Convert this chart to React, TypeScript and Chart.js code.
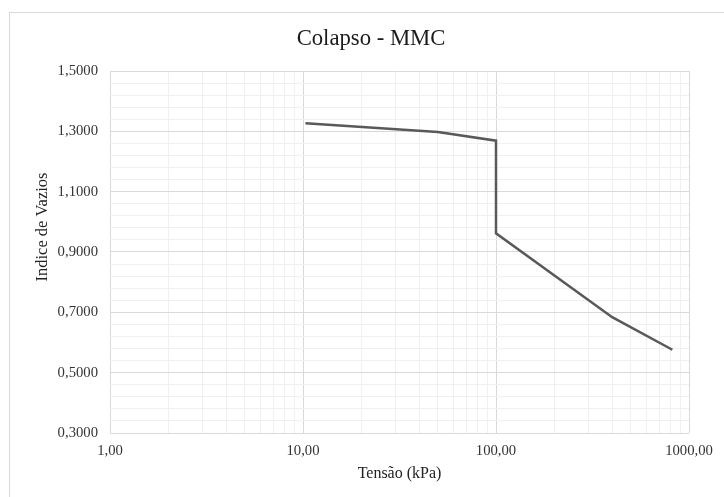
import React, { useEffect, useRef } from "react";
import { Chart, registerables } from "chart.js";

Chart.register(...registerables);

const chartTitle = "Colapso - MMC";
const yAxisTitle = "Indice de Vazios";
const xAxisTitle = "Tensão (kPa)";
const tensao = [10.3, 50, 100, 100, 400, 820];
const indiceVazios = [1.327, 1.298, 1.269, 0.962, 0.684, 0.576];
const xTickValues = [1, 2, 3, 4, 5, 6, 7, 8, 9, 10, 20, 30, 40, 50, 60, 70, 80, 90, 100, 200, 300, 400, 500, 600, 700, 800, 900, 1000];
const xLabelValues = [1, 10, 100, 1000];
const yMin = 0.3;
const yMax = 1.5;
const yMinorStep = 0.04;
const yMajorStep = 0.2;

const FONT = "'Liberation Serif', 'Times New Roman', serif";

const titlePlugin = {
  id: "customTitles",
  afterDraw(chart: any) {
    const c = chart.ctx;
    c.save();
    c.font = `22.7px ${FONT}`;
    c.fillStyle = "#1a1a1a";
    c.textAlign = "center";
    c.textBaseline = "middle";
    c.fillText(chartTitle, 371, 39);
    c.restore();
    c.save();
    c.font = `16.5px ${FONT}`;
    c.fillStyle = "#222";
    c.textAlign = "center";
    c.textBaseline = "middle";
    c.translate(43, 227);
    c.rotate(-Math.PI / 2);
    c.fillText(yAxisTitle, 0, 0);
    c.restore();
  },
};

export default function App() {
  const ref = useRef<HTMLCanvasElement>(null);
  useEffect(() => {
    const ctx = ref.current!;
    const chart = new Chart(ctx, {
      type: "line",
      data: {
        datasets: [
          {
            data: tensao.map((x, i) => ({ x, y: indiceVazios[i] })),
            borderColor: "#595959",
            borderWidth: 2.5,
            pointRadius: 0,
            tension: 0,
            fill: false,
          },
        ],
      },
      plugins: [titlePlugin],
      options: {
        animation: false,
        responsive: false,
        layout: { padding: { left: 33, right: 35, top: 71, bottom: 14 } },
        plugins: {
          legend: { display: false },
          tooltip: { enabled: false },
          title: { display: false },
        },
        scales: {
          x: {
            type: "logarithmic",
            min: 1,
            max: 1000,
            afterBuildTicks: (scale: any) => {
              scale.ticks = xTickValues.map((v) => ({ value: v }));
            },
            afterFit: (scale: any) => {
              scale.height = 50;
            },
            ticks: {
              autoSkip: false,
              maxRotation: 0,
              padding: 9,
              color: "#333",
              font: { family: FONT, size: 14.7 },
              callback: (v: any) => {
                const n = Number(v);
                return xLabelValues.includes(n) ? n.toFixed(2).replace(".", ",") : "";
              },
            },
            grid: {
              color: (c: any) => {
                const v = c.tick ? c.tick.value : 0;
                return xLabelValues.includes(v) ? "#d9d9d9" : "#f0f0f0";
              },
              lineWidth: 1,
              tickLength: 0,
              drawTicks: false,
            },
            border: { display: false },
            title: {
              display: true,
              text: xAxisTitle,
              color: "#222",
              font: { family: FONT, size: 16 },
              padding: { top: 0, bottom: 0 },
            },
          },
          y: {
            type: "linear",
            min: yMin,
            max: yMax,
            afterBuildTicks: (scale: any) => {
              const t = [];
              const n = Math.round((yMax - yMin) / yMinorStep);
              for (let i = 0; i <= n; i++) t.push({ value: Math.round((yMin + i * yMinorStep) * 1000) / 1000 });
              scale.ticks = t;
            },
            afterFit: (scale: any) => {
              scale.width = 77;
            },
            ticks: {
              autoSkip: false,
              padding: 12,
              color: "#333",
              font: { family: FONT, size: 14.7 },
              callback: (v: any) => {
                const n = Number(v);
                const k = (n - yMin) / yMajorStep;
                return Math.abs(k - Math.round(k)) < 1e-6 ? n.toFixed(4).replace(".", ",") : "";
              },
            },
            grid: {
              color: (c: any) => {
                const v = c.tick ? c.tick.value : 0;
                const k = (v - yMin) / yMajorStep;
                return Math.abs(k - Math.round(k)) < 1e-6 ? "#d9d9d9" : "#f0f0f0";
              },
              lineWidth: 1,
              drawTicks: false,
              tickLength: 0,
            },
            border: { display: false },
            title: { display: false },
          },
        },
      },
    });
    return () => chart.destroy();
  }, []);
  return (
    <div style={{ position: "fixed", left: 0, top: 0, width: 724, height: 497, background: "#fff", overflow: "hidden" }}>
      <div style={{ position: "absolute", left: 9, top: 12, width: 760, height: 520, border: "1px solid #d9d9d9", boxSizing: "border-box" }} />
      <canvas ref={ref} width={724} height={497} style={{ position: "absolute", left: 0, top: 0 }} />
    </div>
  );
}
